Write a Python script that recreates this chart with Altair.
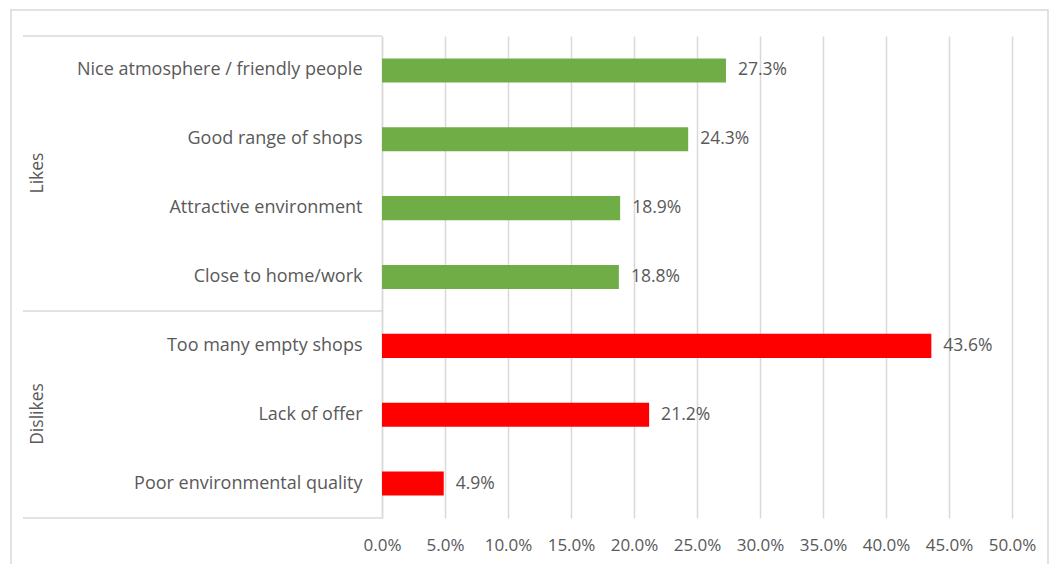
import altair as alt
import pandas as pd

categories = [
    "Nice atmosphere / friendly people",
    "Good range of shops",
    "Attractive environment",
    "Close to home/work",
    "Too many empty shops",
    "Lack of offer",
    "Poor environmental quality",
]
values = [27.3, 24.3, 18.9, 18.8, 43.6, 21.2, 4.9]
groups = ["Likes"] * 4 + ["Dislikes"] * 3
group_colors = {"Likes": "#70ad47", "Dislikes": "#ff0000"}

df = pd.DataFrame({
    "category": categories,
    "value": [v / 100 for v in values],
    "group": groups,
})
df["label"] = [f"{v:.1f}%" for v in values]

FONT = "Open Sans"
FS = 17.5
TXT = "#595959"
GRID = "#d9d9d9"
W, H = 630, 482

yscale = alt.Scale(domain=categories, paddingInner=0.65, paddingOuter=0.325)
xscale = alt.Scale(domain=[0, 0.5], nice=False)

base = alt.Chart(df)

bars = base.mark_bar().encode(
    x=alt.X("value:Q", scale=xscale,
            axis=alt.Axis(format=".1%", values=[i * 0.05 for i in range(11)],
                          title=None, domain=False, ticks=False,
                          grid=True, gridColor=GRID, gridWidth=1.5,
                          labelColor=TXT, labelFont=FONT, labelFontSize=17,
                          labelOverlap=False, labelFlush=False, labelPadding=19)),
    y=alt.Y("category:N", scale=yscale, sort=categories,
            axis=alt.Axis(title=None, ticks=False, domain=True, domainColor=GRID,
                          domainWidth=1.5,
                          labelColor=TXT, labelFont=FONT, labelFontSize=18,
                          labelPadding=20, labelLimit=400)),
    color=alt.Color("group:N",
                    scale=alt.Scale(domain=list(group_colors.keys()),
                                    range=list(group_colors.values())),
                    legend=None),
)

labels = base.mark_text(align="left", baseline="middle", dx=12,
                        font=FONT, fontSize=FS, color=TXT).encode(
    x=alt.X("value:Q", scale=xscale),
    y=alt.Y("category:N", scale=yscale, sort=categories),
    text="label:N",
)

one = pd.DataFrame({"k": [0]})


def sep(yv):
    return alt.Chart(one).mark_rule(color=GRID, strokeWidth=1.5).encode(
        x=alt.value(-359), x2=alt.value(0), y=alt.value(yv)
    )


def group_label(text, yv):
    return alt.Chart(pd.DataFrame({"g": [text]})).mark_text(
        angle=270, font=FONT, fontSize=FS, color=TXT, align="center", baseline="middle"
    ).encode(x=alt.value(-344), y=alt.value(yv), text="g:N")


border = alt.Chart(one).mark_rect(
    fill=None, stroke=GRID, strokeWidth=1.5
).encode(x=alt.value(-371), x2=alt.value(666), y=alt.value(-26), y2=alt.value(570))

chart = alt.layer(
    border, bars, labels, sep(0), sep(275), sep(H),
    group_label("Likes", 137), group_label("Dislikes", 378)
).properties(
    width=W, height=H,
    autosize=alt.AutoSizeParams(type="none"),
    padding={"left": 382, "top": 36, "right": 37, "bottom": 46},
    background="white",
).configure_view(stroke=None)

chart.save("out.html", embed_options={"renderer": "svg", "actions": False})
